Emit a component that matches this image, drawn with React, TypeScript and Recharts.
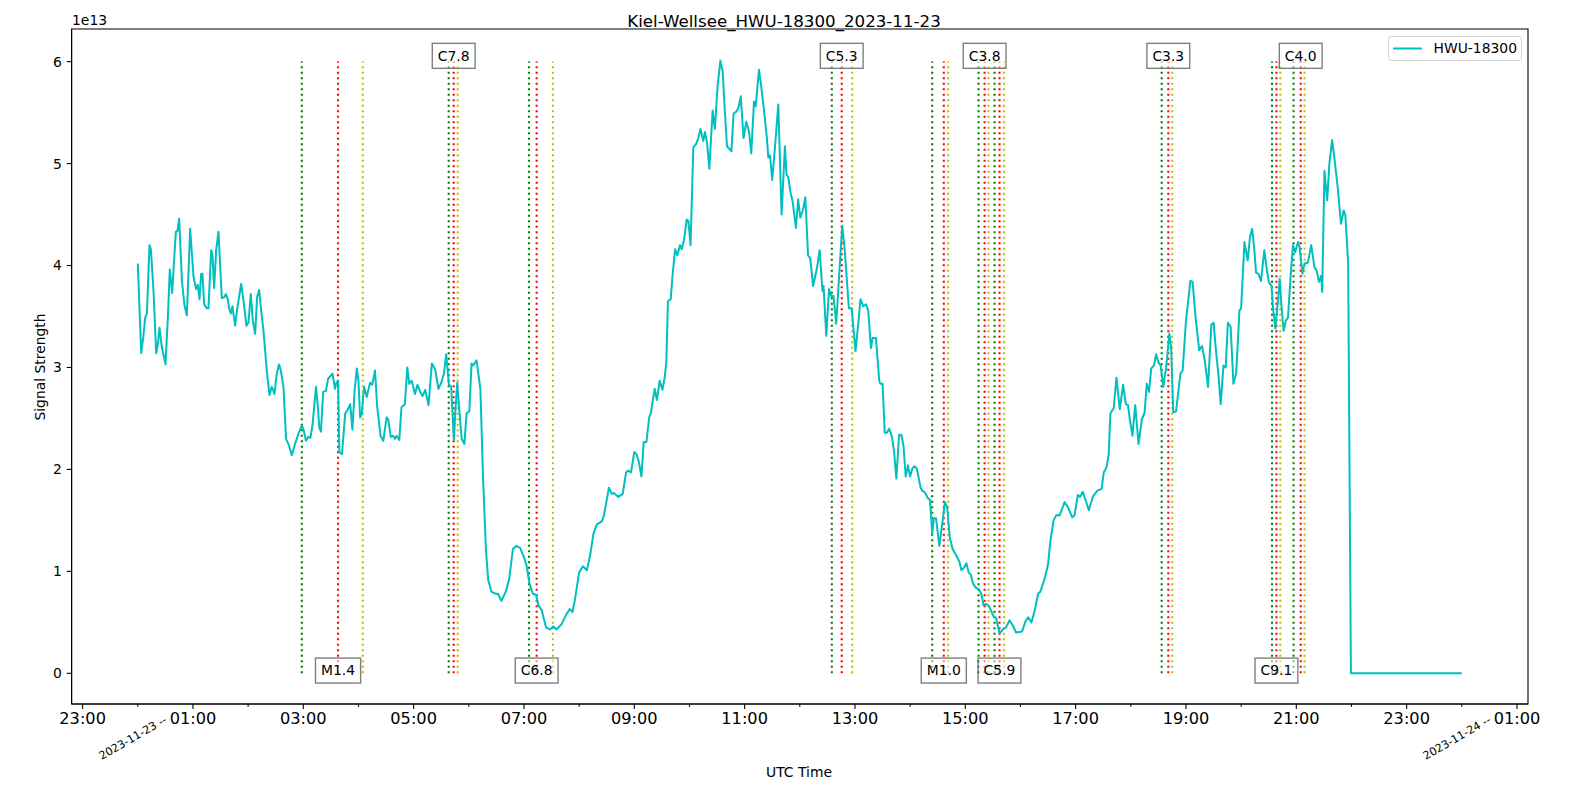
import React from 'react';
import { LineChart, Line, XAxis, YAxis, ReferenceLine, ReferenceDot, ReferenceArea, Legend } from 'recharts';

const FONT = '"DejaVu Sans", Verdana, sans-serif';

// Time in hours since 2023-11-23 00:00 UTC
const timeHours = [
  0, 0.062, 0.10, 0.134, 0.165, 0.212, 0.237, 0.285, 0.333, 0.364,
  0.393, 0.436, 0.502, 0.545, 0.58, 0.623, 0.654, 0.69, 0.72, 0.75,
  0.80, 0.846, 0.889, 0.949, 1.01, 1.058, 1.088, 1.118, 1.149, 1.172,
  1.203, 1.251, 1.281, 1.33, 1.353, 1.384, 1.42, 1.462, 1.523, 1.571,
  1.595, 1.631, 1.656, 1.686, 1.716, 1.764, 1.806, 1.873, 1.915, 1.969,
  2.006, 2.048, 2.085, 2.127, 2.163, 2.2, 2.236, 2.278, 2.338, 2.386,
  2.429, 2.477, 2.519, 2.56, 2.593, 2.64, 2.688, 2.737, 2.791, 2.851,
  2.912, 2.973, 3.0, 3.05, 3.09, 3.13, 3.17, 3.23, 3.26, 3.29,
  3.32, 3.36, 3.41, 3.45, 3.53, 3.575, 3.60, 3.63, 3.654, 3.70,
  3.76, 3.80, 3.85, 3.89, 3.93, 3.97, 4.0, 4.03, 4.06, 4.10,
  4.15, 4.21, 4.25, 4.30, 4.34, 4.40, 4.45, 4.51, 4.54, 4.585,
  4.63, 4.66, 4.69, 4.74, 4.78, 4.84, 4.886, 4.92, 4.965, 5.025,
  5.07, 5.12, 5.16, 5.21, 5.27, 5.33, 5.39, 5.45, 5.50, 5.55,
  5.59, 5.64, 5.68, 5.73, 5.76, 5.79, 5.83, 5.87, 5.92, 5.96,
  6.01, 6.05, 6.08, 6.14, 6.21, 6.26, 6.31, 6.35, 6.41, 6.49,
  6.53, 6.59, 6.67, 6.73, 6.80, 6.86, 6.93, 7.0, 7.05, 7.10,
  7.16, 7.22, 7.26, 7.32, 7.40, 7.47, 7.53, 7.59, 7.68, 7.77,
  7.83, 7.88, 7.92, 8.0, 8.07, 8.14, 8.20, 8.26, 8.32, 8.41,
  8.45, 8.50, 8.54, 8.59, 8.63, 8.71, 8.79, 8.85, 8.89, 8.94,
  9.00, 9.04, 9.08, 9.13, 9.17, 9.22, 9.27, 9.30, 9.33, 9.37,
  9.41, 9.46, 9.51, 9.55, 9.58, 9.61, 9.66, 9.69, 9.74, 9.78,
  9.83, 9.86, 9.90, 9.95, 9.98, 10.02, 10.07, 10.12, 10.16, 10.20,
  10.25, 10.28, 10.32, 10.36, 10.42, 10.46, 10.51, 10.56, 10.60, 10.64,
  10.68, 10.73, 10.76, 10.80, 10.85, 10.89, 10.93, 10.98, 11.03, 11.08,
  11.12, 11.17, 11.20, 11.26, 11.30, 11.35, 11.40, 11.43, 11.46, 11.50,
  11.55, 11.61, 11.67, 11.73, 11.76, 11.79, 11.83, 11.87, 11.93, 11.97,
  12.01, 12.06, 12.10, 12.15, 12.19, 12.24, 12.31, 12.36, 12.41, 12.43,
  12.48, 12.53, 12.57, 12.61, 12.66, 12.72, 12.77, 12.81, 12.85, 12.89,
  12.94, 13.01, 13.06, 13.10, 13.15, 13.20, 13.24, 13.29, 13.32, 13.38,
  13.44, 13.46, 13.50, 13.54, 13.58, 13.62, 13.67, 13.71, 13.75, 13.80,
  13.84, 13.88, 13.92, 13.96, 14.00, 14.04, 14.08, 14.12, 14.19, 14.22,
  14.26, 14.32, 14.36, 14.40, 14.43, 14.47, 14.53, 14.59, 14.63, 14.67,
  14.72, 14.77, 14.83, 14.89, 14.93, 14.97, 15.02, 15.06, 15.10, 15.14,
  15.19, 15.25, 15.29, 15.33, 15.38, 15.43, 15.47, 15.51, 15.56, 15.62,
  15.68, 15.74, 15.80, 15.86, 15.92, 16.03, 16.09, 16.14, 16.20, 16.26,
  16.32, 16.36, 16.44, 16.50, 16.54, 16.60, 16.65, 16.71, 16.80, 16.86,
  16.94, 16.98, 17.04, 17.08, 17.13, 17.18, 17.24, 17.31, 17.39, 17.47,
  17.51, 17.56, 17.60, 17.63, 17.69, 17.74, 17.80, 17.86, 17.91, 17.95,
  17.98, 18.03, 18.08, 18.14, 18.20, 18.25, 18.29, 18.33, 18.37, 18.42,
  18.46, 18.50, 18.54, 18.59, 18.64, 18.70, 18.73, 18.77, 18.82, 18.90,
  18.94, 19.00, 19.08, 19.12, 19.18, 19.24, 19.29, 19.34, 19.40, 19.46,
  19.50, 19.55, 19.59, 19.63, 19.68, 19.72, 19.76, 19.81, 19.86, 19.91,
  19.97, 20.00, 20.06, 20.12, 20.16, 20.20, 20.24, 20.27, 20.31, 20.36,
  20.42, 20.46, 20.50, 20.55, 20.58, 20.62, 20.67, 20.70, 20.73, 20.77,
  20.81, 20.85, 20.90, 20.94, 20.98, 21.03, 21.06, 21.11, 21.15, 21.21,
  21.27, 21.33, 21.37, 21.41, 21.45, 21.47, 21.51, 21.56, 21.60, 21.65,
  21.70, 21.75, 21.81, 21.86, 21.89, 21.94, 21.99, 24.0,
];

// Signal strength in units of 1e13
const signalE13 = [
  4.02, 3.14, 3.30, 3.49, 3.53, 4.20, 4.16, 3.75, 3.14, 3.23,
  3.39, 3.20, 3.03, 3.49, 3.96, 3.73, 4.02, 4.33, 4.34, 4.46,
  3.85, 3.61, 3.51, 4.36, 3.89, 3.77, 3.81, 3.67, 3.92, 3.92,
  3.62, 3.58, 3.58, 4.15, 4.11, 3.78, 4.15, 4.33, 3.68, 3.69,
  3.72, 3.67, 3.58, 3.53, 3.60, 3.41, 3.59, 3.82, 3.66, 3.41,
  3.44, 3.72, 3.46, 3.33, 3.69, 3.76, 3.56, 3.36, 2.97, 2.73,
  2.81, 2.74, 2.94, 3.03, 2.97, 2.81, 2.30, 2.24, 2.14, 2.25,
  2.35, 2.43, 2.40, 2.28, 2.32, 2.31, 2.45, 2.81, 2.64, 2.41,
  2.37, 2.76, 2.77, 2.89, 2.94, 2.79, 2.85, 2.87, 2.17, 2.15,
  2.55, 2.58, 2.64, 2.39, 2.77, 2.99, 2.87, 2.51, 2.54, 2.81,
  2.71, 2.85, 2.83, 2.97, 2.61, 2.33, 2.28, 2.51, 2.49, 2.32,
  2.33, 2.30, 2.33, 2.29, 2.61, 2.64, 3.00, 2.84, 2.87, 2.74,
  2.83, 2.76, 2.72, 2.78, 2.63, 3.04, 2.98, 2.79, 2.85, 2.94,
  3.13, 2.83, 2.81, 2.29, 2.60, 2.85, 2.57, 2.30, 2.25, 2.55,
  2.57, 3.04, 3.02, 3.07, 2.79, 1.89, 1.22, 0.92, 0.80, 0.78,
  0.78, 0.71, 0.80, 0.92, 1.22, 1.25, 1.23, 1.14, 1.05, 0.88,
  0.78, 0.77, 0.67, 0.62, 0.45, 0.43, 0.46, 0.43, 0.48, 0.58,
  0.63, 0.60, 0.71, 0.99, 1.05, 1.01, 1.16, 1.37, 1.46, 1.49,
  1.55, 1.70, 1.82, 1.76, 1.77, 1.73, 1.76, 1.97, 1.99, 1.97,
  2.17, 2.15, 2.08, 1.93, 2.27, 2.27, 2.51, 2.55, 2.66, 2.79,
  2.68, 2.87, 2.78, 2.90, 3.05, 3.65, 3.67, 3.88, 4.16, 4.10,
  4.20, 4.16, 4.25, 4.45, 4.44, 4.20, 5.16, 5.19, 5.25, 5.34,
  5.22, 5.31, 5.20, 4.95, 5.52, 5.34, 5.76, 6.01, 5.91, 5.53,
  5.17, 5.14, 5.12, 5.49, 5.51, 5.55, 5.66, 5.25, 5.41, 5.31,
  5.10, 5.61, 5.56, 5.92, 5.76, 5.53, 5.27, 5.06, 5.08, 4.84,
  5.16, 5.58, 4.50, 5.17, 4.89, 4.87, 4.72, 4.63, 4.37, 4.65,
  4.47, 4.55, 4.67, 4.10, 4.07, 3.80, 3.97, 4.15, 3.75, 3.80,
  3.31, 3.77, 3.70, 3.70, 3.43, 3.96, 4.39, 4.18, 3.88, 3.58,
  3.58, 3.16, 3.43, 3.67, 3.60, 3.62, 3.56, 3.19, 3.29, 3.29,
  2.87, 2.84, 2.84, 2.36, 2.36, 2.40, 2.32, 2.17, 1.91, 2.34,
  2.34, 2.23, 1.93, 2.04, 1.93, 2.01, 2.03, 2.01, 1.82, 1.79,
  1.78, 1.72, 1.70, 1.37, 1.52, 1.52, 1.25, 1.50, 1.68, 1.63,
  1.33, 1.22, 1.16, 1.10, 1.01, 1.03, 1.08, 0.99, 0.97, 0.88,
  0.84, 0.82, 0.78, 0.67, 0.68, 0.66, 0.61, 0.56, 0.54, 0.39,
  0.43, 0.45, 0.52, 0.47, 0.40, 0.41, 0.51, 0.55, 0.50, 0.62,
  0.78, 0.80, 0.93, 1.07, 1.29, 1.50, 1.55, 1.55, 1.68, 1.63,
  1.53, 1.55, 1.75, 1.73, 1.78, 1.70, 1.60, 1.73, 1.79, 1.81,
  1.97, 2.02, 2.15, 2.55, 2.60, 2.90, 2.59, 2.83, 2.64, 2.63,
  2.50, 2.33, 2.63, 2.25, 2.49, 2.56, 2.84, 2.76, 2.99, 3.02,
  3.13, 3.05, 3.02, 2.81, 3.00, 3.33, 3.20, 2.56, 2.57, 2.94,
  2.97, 3.46, 3.85, 3.84, 3.46, 3.17, 3.21, 3.07, 2.81, 3.42,
  3.44, 3.13, 2.92, 2.64, 3.02, 3.00, 3.44, 3.40, 2.84, 2.94,
  3.56, 3.58, 4.23, 4.05, 4.28, 4.36, 4.15, 3.93, 3.92, 3.85,
  4.15, 3.98, 3.84, 3.80, 3.58, 3.38, 3.67, 3.87, 3.61, 3.36,
  3.46, 3.49, 3.92, 4.20, 4.13, 4.23, 4.18, 3.92, 4.02, 4.03,
  4.20, 3.98, 3.95, 3.84, 3.90, 3.74, 4.93, 4.64, 5.00, 5.23,
  5.01, 4.77, 4.41, 4.54, 4.49, 4.02, 0, 0,
];

// Solar flare events (hours since 2023-11-23 00:00 UTC)
const flareClasses = ['M1.4', 'C7.8', 'C6.8', 'C5.3', 'M1.0', 'C3.8', 'C5.9', 'C3.3', 'C9.1', 'C4.0'];
const flareStart = [2.973, 5.636, 7.091, 12.58, 14.40, 15.24, 15.53, 18.56, 20.56, 20.95];
const flarePeak = [3.630, 5.726, 7.230, 12.76, 14.61, 15.35, 15.62, 18.68, 20.64, 21.08];
const flareEnd = [4.078, 5.799, 7.525, 12.95, 14.69, 15.42, 15.70, 18.75, 20.71, 21.15];
const flareLabelY = [-0.03, 6, -0.03, 6, -0.03, 6, -0.03, 6, -0.03, 6];
const flareLineTop = 6;

const hourTicks = [-1, 0, 1, 2, 3, 4, 5, 6, 7, 8, 9, 10, 11, 12, 13, 14, 15, 16, 17, 18, 19, 20, 21, 22, 23, 24, 25];
const dateTickHours = [0, 24];
const dateTickLabels = ['2023-11-23 --', '2023-11-24 --'];
const yTicks = [0, 1, 2, 3, 4, 5, 6];

const seriesName = 'HWU-18300';
const chartTitle = 'Kiel-Wellsee_HWU-18300_2023-11-23';

const fmtHour = (h: number) => {
  const hh = ((h % 24) + 24) % 24;
  return `${String(hh).padStart(2, '0')}:00`;
};

const XTick = (props: any) => {
  const { x, y, payload } = props;
  const h = payload.value as number;
  const major = ((h % 2) + 2) % 2 === 1;
  const di = dateTickHours.indexOf(h);
  return (
    <g>
      <line x1={x} y1={y} x2={x} y2={y + (major ? 4.9 : 2.8)} stroke="#000" strokeWidth={1.1} />
      {major && (
        <text x={x} y={y + 20} textAnchor="middle" fontSize={16.2} fontFamily={FONT} fill="#000">
          {fmtHour(h)}
        </text>
      )}
      {di >= 0 && (
        <text
          x={x - 36}
          y={y + 56}
          textAnchor="start"
          fontSize={11.1}
          fontFamily={FONT}
          fill="#000"
          transform={`rotate(-30, ${x - 36}, ${y + 56})`}
        >
          {dateTickLabels[di]}
        </text>
      )}
    </g>
  );
};

const FlareBox = (props: any) => {
  const { cx, cy, text } = props;
  const em = (text[0] === 'M' ? 0.863 : 0.698) + 0.636 * 2 + 0.318;
  const w = em * 13.9 + 11;
  return (
    <g>
      <rect x={cx - w / 2} y={cy - 18.3} width={w} height={25} fill="#fff" fillOpacity={0.5} stroke="#000" strokeOpacity={0.5} strokeWidth={1.4} />
      <text x={cx} y={cy - 1} textAnchor="middle" fontSize={13.9} fontFamily={FONT} fill="#000">
        {text}
      </text>
    </g>
  );
};

const LegendBox = () => (
  <div
    style={{
      boxSizing: 'border-box',
      width: 134,
      height: 25,
      border: '1px solid #d6d6d6',
      borderRadius: 3,
      background: 'rgba(255,255,255,0.8)',
      position: 'relative',
      fontFamily: FONT,
    }}
  >
    <svg width={134} height={25} style={{ position: 'absolute', left: -1, top: -1 }}>
      <line x1={5} y1={12.5} x2={34} y2={12.5} stroke="#00bfbf" strokeWidth={2} />
      <text x={45.5} y={17} fontSize={13.9} fontFamily={FONT} fill="#000">
        {seriesName}
      </text>
    </svg>
  </div>
);

export default function App() {
  const data = timeHours.map((t, i) => ({ t, v: signalE13[i] }));
  const lineStyle = { strokeWidth: 2.1, strokeDasharray: '2.1 3.4' };
  return (
    <div style={{ position: 'absolute', left: 0, top: 0, width: 1570, height: 792, background: '#fff', fontFamily: FONT }}>
      <LineChart width={1570} height={792} data={data} margin={{ top: 29, right: 42, bottom: 58, left: 11.6 }}>
        <XAxis
          dataKey="t"
          type="number"
          domain={[-1.2, 25.2]}
          allowDataOverflow
          ticks={hourTicks}
          interval={0}
          tick={(p: any) => <XTick {...p} />}
          tickLine={false}
          tickSize={0}
          tickMargin={0}
          height={30}
          axisLine={{ stroke: '#000', strokeWidth: 1.1 }}
        />
        <YAxis
          type="number"
          domain={[-0.301, 6.32]}
          allowDataOverflow
          ticks={yTicks}
          interval={0}
          width={60}
          tickSize={4.9}
          tickMargin={4.8}
          tick={{ fontSize: 13.9, fill: '#000', fontFamily: FONT }}
          tickLine={{ stroke: '#000', strokeWidth: 1.1 }}
          axisLine={{ stroke: '#000', strokeWidth: 1.1 }}
          tickFormatter={(v: number) => String(v)}
        />
        <ReferenceArea x1={-1.2} x2={25.2} y1={-0.301} y2={6.32} fill="none" stroke="#000" strokeWidth={1.1} ifOverflow="visible" />
        {flareClasses.map((c, i) => (
          <ReferenceLine
            key={`g${i}`}
            segment={[{ x: flareStart[i], y: 0 }, { x: flareStart[i], y: flareLineTop }]}
            stroke="#008000"
            {...lineStyle}
          />
        ))}
        {flareClasses.map((c, i) => (
          <ReferenceLine
            key={`r${i}`}
            segment={[{ x: flarePeak[i], y: 0 }, { x: flarePeak[i], y: flareLineTop }]}
            stroke="#ff0000"
            {...lineStyle}
          />
        ))}
        {flareClasses.map((c, i) => (
          <ReferenceLine
            key={`y${i}`}
            segment={[{ x: flareEnd[i], y: 0 }, { x: flareEnd[i], y: flareLineTop }]}
            stroke="#bfbf00"
            {...lineStyle}
          />
        ))}
        <Line
          dataKey="v"
          name={seriesName}
          type="linear"
          stroke="#00bfbf"
          strokeWidth={2}
          strokeLinejoin="round"
          dot={false}
          activeDot={false}
          isAnimationActive={false}
        />
        {flareClasses.map((c, i) => (
          <ReferenceDot
            key={`b${i}`}
            x={flarePeak[i]}
            y={flareLabelY[i]}
            r={1}
            shape={(p: any) => <FlareBox {...p} text={c} />}
          />
        ))}
        <Legend
          layout="vertical"
          align="center"
          verticalAlign="middle"
          content={() => <LegendBox />}
          wrapperStyle={{ position: 'absolute', left: 1388, top: 36, width: 134, height: 25 }}
        />
      </LineChart>
      <svg width={1570} height={792} style={{ position: 'absolute', left: 0, top: 0, pointerEvents: 'none' }}>
        <text x={784} y={27} textAnchor="middle" fontSize={16.67} fontFamily={FONT} fill="#000">
          {chartTitle}
        </text>
        <text x={72} y={25} fontSize={13.9} fontFamily={FONT} fill="#000">
          1e13
        </text>
        <text
          x={39.5}
          y={367}
          textAnchor="middle"
          dominantBaseline="central"
          fontSize={13.9}
          fontFamily={FONT}
          fill="#000"
          transform="rotate(-90, 39.5, 367)"
        >
          Signal Strength
        </text>
        <text x={799} y={777} textAnchor="middle" fontSize={13.9} fontFamily={FONT} fill="#000">
          UTC Time
        </text>
      </svg>
    </div>
  );
}
